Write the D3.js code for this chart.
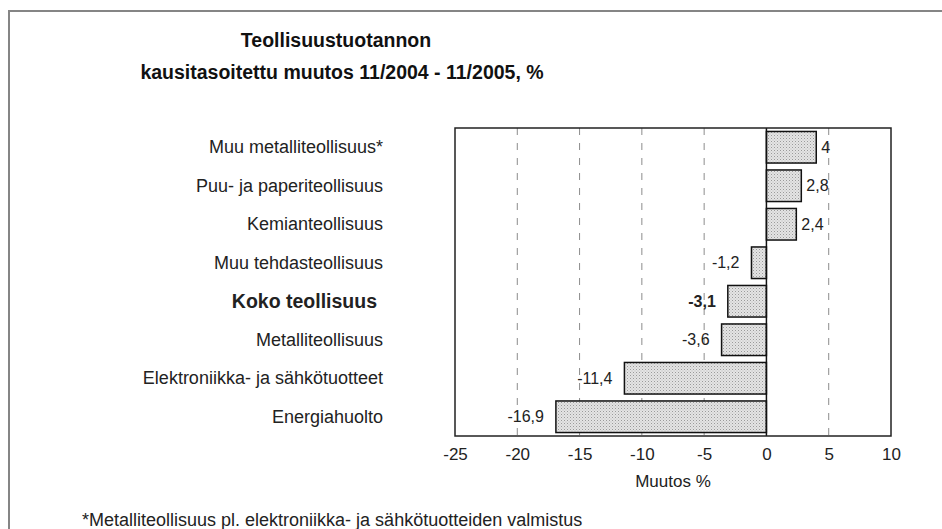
<!DOCTYPE html>
<html>
<head>
<meta charset="utf-8">
<script src="https://cdn.jsdelivr.net/npm/d3@7"></script>
<style>
  body { margin: 0; background: #fff; }
  svg { display: block; font-family: "Liberation Sans", Arial, sans-serif; }
</style>
</head>
<body>
<div id="chart"></div>
<script>
// data
var categories = [
	"Muu metalliteollisuus*",
	"Puu- ja paperiteollisuus",
	"Kemianteollisuus",
	"Muu tehdasteollisuus",
	"Koko teollisuus",
	"Metalliteollisuus",
	"Elektroniikka- ja sähkötuotteet",
	"Energiahuolto"
];
var values = [4, 2.8, 2.4, -1.2, -3.1, -3.6, -11.4, -16.9];
var xTicks = [-25, -20, -15, -10, -5, 0, 5, 10];
var gridTicks = [-20, -15, -10, -5, 5];
var boldCategory = "Koko teollisuus";

var W = 942, H = 529;
// plot area (note: "top" is reserved on window, so m_ prefix)
var m_left = 455, m_right = 891, m_top = 128, m_bottom = 436;

var fi = d3.formatLocale({ decimal: ",", thousands: " ", grouping: [3], currency: ["", ""], minus: "-" });
var fmt = function(v) { return fi.format("~g")(v); };

var svg = d3.select("#chart").append("svg")
	.attr("width", W)
	.attr("height", H);

// stipple fill for the bars
var pat = svg.append("defs").append("pattern")
	.attr("id", "dots")
	.attr("width", 3).attr("height", 3)
	.attr("patternUnits", "userSpaceOnUse");
pat.append("rect").attr("width", 3).attr("height", 3).attr("fill", "#e4e4e4");
pat.append("rect").attr("width", 1).attr("height", 1).attr("fill", "#9a9a9a");
pat.append("rect").attr("x", 1.5).attr("y", 1.5).attr("width", 1).attr("height", 1).attr("fill", "#b8b8b8");

// outer frame (only top and left visible)
svg.append("path")
	.attr("d", "M9," + H + " L9,11 L" + W + ",11")
	.attr("fill", "none")
	.attr("stroke", "#858585")
	.attr("stroke-width", 2);

// title
var title = svg.append("text")
	.attr("text-anchor", "middle")
	.attr("font-weight", "bold")
	.attr("font-size", 19.5)
	.attr("fill", "#111");
title.append("tspan").attr("x", 336).attr("y", 47).text("Teollisuustuotannon");
title.append("tspan").attr("x", 342).attr("y", 79).text("kausitasoitettu muutos 11/2004 - 11/2005, %");

var x = d3.scaleLinear().domain([-25, 10]).range([m_left, m_right]);
var y = d3.scaleBand().domain(categories).range([m_top, m_bottom]).paddingInner(0.18).paddingOuter(0.09);

// dashed gridlines
svg.selectAll(".grid")
	.data(gridTicks)
	.enter()
	.append("line")
	.attr("class", "grid")
	.attr("x1", function(d) { return x(d); })
	.attr("x2", function(d) { return x(d); })
	.attr("y1", m_top)
	.attr("y2", m_bottom)
	.attr("stroke", "#8c8c8c")
	.attr("stroke-width", 1)
	.attr("stroke-dasharray", "7,8");

// bars
svg.selectAll(".bar")
	.data(values)
	.enter()
	.append("rect")
	.attr("class", "bar")
	.attr("x", function(d) { return x(Math.min(0, d)); })
	.attr("y", function(d, i) { return y(categories[i]); })
	.attr("width", function(d) { return Math.abs(x(d) - x(0)); })
	.attr("height", y.bandwidth())
	.attr("fill", "url(#dots)")
	.attr("stroke", "#111")
	.attr("stroke-width", 1.5);

// zero line
svg.append("line")
	.attr("x1", x(0)).attr("x2", x(0))
	.attr("y1", m_top).attr("y2", m_bottom)
	.attr("stroke", "#111")
	.attr("stroke-width", 1.5);

// plot border
svg.append("rect")
	.attr("x", m_left).attr("y", m_top)
	.attr("width", m_right - m_left).attr("height", m_bottom - m_top)
	.attr("fill", "none")
	.attr("stroke", "#222")
	.attr("stroke-width", 1.5);

// value labels
svg.selectAll(".val")
	.data(values)
	.enter()
	.append("text")
	.attr("class", "val")
	.attr("x", function(d) { return d >= 0 ? x(d) + 5 : x(d) - 12; })
	.attr("y", function(d, i) { return y(categories[i]) + y.bandwidth() / 2; })
	.attr("dy", "0.35em")
	.attr("text-anchor", function(d) { return d >= 0 ? "start" : "end"; })
	.attr("font-size", 16)
	.attr("font-weight", function(d, i) { return categories[i] == boldCategory ? "bold" : "normal"; })
	.attr("fill", "#222")
	.text(function(d) { return fmt(d); });

// category axis
var yAxis = svg.append("g")
	.attr("transform", "translate(" + m_left + ",0)")
	.call(d3.axisLeft(y).tickSize(0).tickPadding(72));
yAxis.select(".domain").remove();
yAxis.selectAll("text")
	.attr("fill", "#222")
	.attr("font-family", "'Liberation Sans', Arial, sans-serif")
	.attr("font-weight", function(d) { return d == boldCategory ? "bold" : "normal"; })
	.attr("font-size", function(d) { return d == boldCategory ? 19.5 : 18; })
	.attr("dx", function(d) { return d == boldCategory ? -6 : 0; });

// value axis
var xAxis = svg.append("g")
	.attr("transform", "translate(0," + m_bottom + ")")
	.call(d3.axisBottom(x).tickValues(xTicks).tickSize(0).tickPadding(12).tickFormat(fmt));
xAxis.select(".domain").remove();
xAxis.selectAll("text")
	.attr("font-size", 17)
	.attr("fill", "#222")
	.attr("font-family", "'Liberation Sans', Arial, sans-serif");

svg.append("text")
	.attr("x", (m_left + m_right) / 2)
	.attr("y", 487)
	.attr("text-anchor", "middle")
	.attr("font-size", 17)
	.attr("fill", "#222")
	.text("Muutos %");

// footnote
svg.append("text")
	.attr("x", 82)
	.attr("y", 526)
	.attr("font-size", 18)
	.attr("fill", "#222")
	.text("*Metalliteollisuus pl. elektroniikka- ja sähkötuotteiden valmistus");
</script>
</body>
</html>
